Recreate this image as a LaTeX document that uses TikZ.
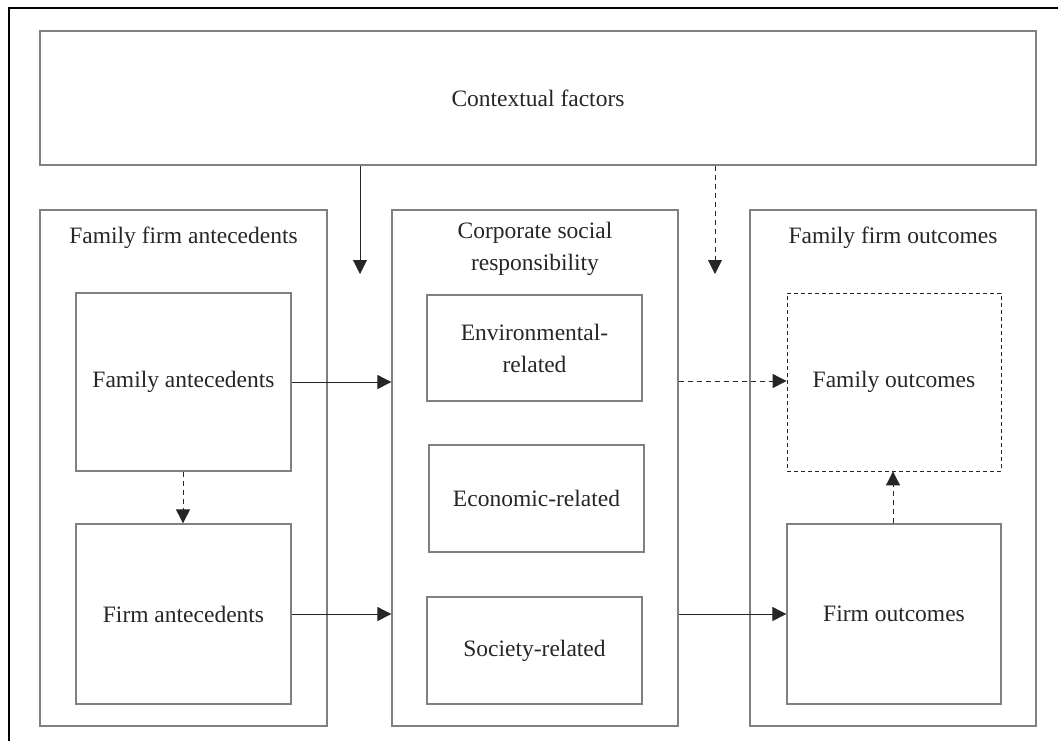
\documentclass[tikz,border=0pt]{standalone}
\usepackage{fontspec}
\setmainfont{Liberation Serif}
\usetikzlibrary{arrows.meta,calc}
\definecolor{boxgray}{HTML}{808080}
\definecolor{txt}{HTML}{262626}
\tikzset{
  box/.style={draw=boxgray,line width=1.3pt,inner sep=0pt,text=txt,align=center,font=\fontsize{23.5}{32}\selectfont},
  dbox/.style={draw=txt,line width=0.8pt,dash pattern=on 4pt off 3pt,inner sep=0pt,text=txt,align=center,font=\fontsize{23.5}{32}\selectfont},
  lbl/.style={text=txt,align=center,inner sep=0pt,font=\fontsize{23.5}{32}\selectfont},
  arr/.style={draw=txt,line width=0.9pt,-{Triangle[length=14pt,width=14pt]}},
  darr/.style={arr,dash pattern=on 5pt off 4pt}
}
\begin{document}
\begin{tikzpicture}[x=1pt,y=-1pt]
\useasboundingbox (0,0) rectangle (1058,740);
% outer frame (only top/left visible)
\draw[black,line width=1.2pt] (9,745) -- (9,8) -- (1065,8);
\node[box,minimum width=996pt,minimum height=134pt] (ctx) at (538,98) {Contextual factors};
\node[box,minimum width=287pt,minimum height=516pt] (g1) at (183.5,468) {};
\node[box,minimum width=286pt,minimum height=516pt] (g2) at (535,468) {};
\node[box,minimum width=286pt,minimum height=516pt] (g3) at (893,468) {};
\node[lbl] (g1t) at (183.5,238) {Family firm antecedents};
\node[lbl] (g2t) at (535,249) {Corporate social\\responsibility};
\node[lbl] (g3t) at (893,238) {Family firm outcomes};
\node[box,minimum width=215pt,minimum height=178pt] (fa) at (183.5,382) {Family antecedents};
\node[box,minimum width=215pt,minimum height=180pt] (fia) at (183.5,614) {Firm antecedents};
\node[box,minimum width=215pt,minimum height=106pt] (env) at (534.5,348) {Environmental-\\related};
\node[box,minimum width=215pt,minimum height=107pt] (eco) at (536.5,498.5) {Economic-related};
\node[box,minimum width=215pt,minimum height=107pt] (soc) at (534.5,650.5) {Society-related};
\node[dbox,minimum width=214pt,minimum height=178pt] (fo) at (894,382) {Family outcomes};
\node[box,minimum width=214pt,minimum height=180pt] (fio) at (894,614) {Firm outcomes};
% arrows
\coordinate (c1) at (360,274);
\coordinate (c2) at (715,274);
\draw[arr] (ctx.south -| c1) -- (c1);
\draw[darr] (ctx.south -| c2) -- (c2);
\draw[arr] (fa.east |- 0,382) -- (g2.west |- 0,382);
\draw[arr] (fia.east |- 0,614) -- (g2.west |- 0,614);
\draw[darr] (g2.east |- 0,381) -- (fo.west |- 0,381);
\draw[arr] (g2.east |- 0,614) -- (fio.west |- 0,614);
\draw[darr] (fa.south -| 183,0) -- (fia.north -| 183,0);
\draw[darr] (fio.north -| 893,0) -- (fo.south -| 893,0);
\end{tikzpicture}
\end{document}
